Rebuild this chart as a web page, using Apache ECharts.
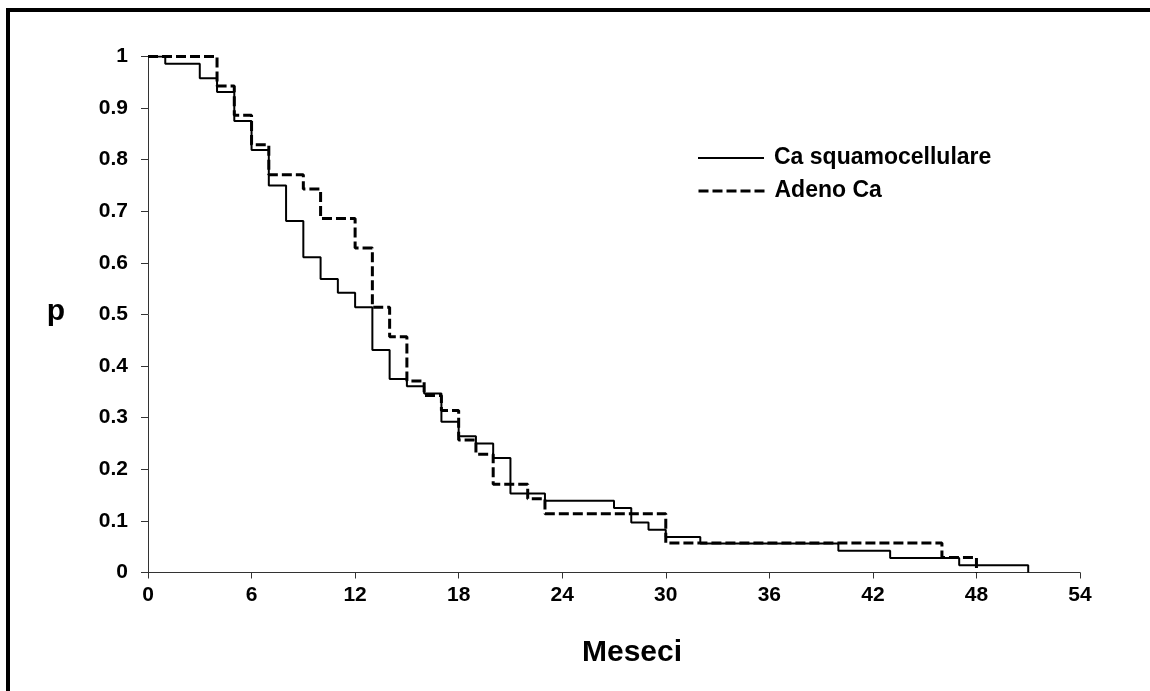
<!DOCTYPE html>
<html>
<head>
<meta charset="utf-8">
<title>Meseci - p</title>
<script src="https://cdn.jsdelivr.net/npm/echarts@6/dist/echarts.min.js"></script>
<style>
  html, body { margin: 0; padding: 0; background: #fff; }
  #km { width: 1150px; height: 691px; }
</style>
</head>
<body>
<div id="km"></div>
<script>
// mesi e probabilità
var squamoMesi = [0, 1, 3, 4, 5, 6, 7, 8, 9, 10, 11, 12, 13, 14, 15, 16, 17, 18, 19, 20, 21, 23, 27, 28, 29, 30, 32, 40, 43, 47, 51];
var squamoP    = [1, 0.986, 0.958, 0.931, 0.875, 0.819, 0.75, 0.681, 0.611, 0.569, 0.542, 0.514, 0.431, 0.375, 0.361, 0.347, 0.292, 0.264, 0.25, 0.222, 0.153, 0.139, 0.125, 0.097, 0.083, 0.069, 0.056, 0.042, 0.028, 0.014, 0];

var adenoMesi = [0, 4, 5, 6, 7, 9, 10, 12, 13, 14, 15, 16, 17, 18, 19, 20, 22, 23, 30, 46, 48];
var adenoP    = [1, 0.943, 0.886, 0.829, 0.771, 0.743, 0.686, 0.629, 0.514, 0.457, 0.371, 0.343, 0.314, 0.257, 0.229, 0.171, 0.143, 0.114, 0.057, 0.029, 0];

var serieNomi = ['Ca squamocellulare', 'Adeno Ca'];

function coppie(xs, ys) {
    return xs.map(function (x, i) { return [x, ys[i]]; });
}

var km = echarts.init(document.getElementById('km'));
var testo = { color: '#000', fontWeight: 'bold', fontFamily: 'Liberation Sans, Arial, sans-serif' };

var tratto = [
    { color: '#000', width: 2, type: 'solid' },
    { color: '#000', width: 3, type: [10, 4] }
];

function voceLegenda(i, top) {
    return {
        orient: 'vertical', left: 697, top: top, padding: 0,
        itemWidth: 66, itemHeight: 14,
        itemStyle: { color: 'transparent', borderWidth: 0 },
        lineStyle: tratto[i],
        data: [serieNomi[i]],
        textStyle: Object.assign({ fontSize: 23, lineHeight: 26, padding: [0, 0, 0, 5] }, testo)
    };
}

var option = {
    animation: false,
    backgroundColor: '#fff',
    grid: { left: 148, right: 70, top: 56.5, bottom: 118.5 },
    legend: [voceLegenda(0, 145), voceLegenda(1, 178)],
    xAxis: {
        type: 'value', min: 0, max: 54, interval: 6,
        axisLine: { lineStyle: { color: '#333', width: 1 } },
        axisTick: { length: 6, lineStyle: { color: '#333' } },
        splitLine: { show: false },
        axisLabel: Object.assign({ fontSize: 21, margin: 12 }, testo)
    },
    yAxis: {
        type: 'value', min: 0, max: 1, interval: 0.1,
        axisLine: { show: true, lineStyle: { color: '#333', width: 1 } },
        axisTick: { show: true, length: 7, lineStyle: { color: '#333' } },
        splitLine: { show: false },
        axisLabel: Object.assign({ fontSize: 21, margin: 20 }, testo)
    },
    graphic: [{
        type: 'rect', silent: true,
        shape: { x: 8, y: 10, width: 1400, height: 1000 },
        style: { fill: 'none', stroke: '#000', lineWidth: 4 }
    }, {
        type: 'text', silent: true,
        style: Object.assign({ text: 'p', x: 56, y: 327, fontSize: 30, textAlign: 'center', textVerticalAlign: 'bottom' }, testo)
    }, {
        type: 'text', silent: true,
        style: Object.assign({ text: 'Meseci', x: 632, y: 653, fontSize: 30, textAlign: 'center', textVerticalAlign: 'middle' }, testo)
    }],
    series: [{
        name: serieNomi[0],
        type: 'line',
        step: 'end',
        symbol: 'none',
        color: '#000',
        lineStyle: tratto[0],
        data: coppie(squamoMesi, squamoP)
    }, {
        name: serieNomi[1],
        type: 'line',
        step: 'end',
        symbol: 'none',
        color: '#000',
        lineStyle: tratto[1],
        data: coppie(adenoMesi, adenoP)
    }]
};

km.setOption(option);
window.onresize = function () { km.resize(); };
</script>
</body>
</html>
